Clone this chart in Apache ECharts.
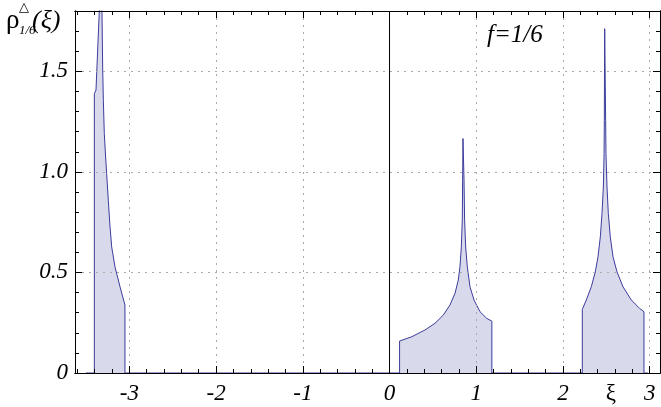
<!DOCTYPE html>
<html><head><meta charset="utf-8">
<script src="https://cdn.jsdelivr.net/npm/echarts@6/dist/echarts.min.js"></script>
<style>html,body{margin:0;padding:0;background:#fff}#c{width:661px;height:407px}</style>
</head><body><div id="c"></div>
<script>
// ---- data ----
const xMin = -3.627, xMax = 3.119, yMin = 0, yMax = 1.8;
const xMajorTicks = [-3, -2, -1, 0, 1, 2, 3];
const xMinorTicks = [-3.6,-3.4,-3.2,-2.8,-2.6,-2.4,-2.2,-1.8,-1.6,-1.4,-1.2,-0.8,-0.6,-0.4,-0.2,0.2,0.4,0.6,0.8,1.2,1.4,1.6,1.8,2.2,2.4,2.6,2.8];
const yMajorTicks = [0, 0.5, 1.0, 1.5];
const yMinorTicks = [0.1,0.2,0.3,0.4,0.6,0.7,0.8,0.9,1.1,1.2,1.3,1.4,1.6,1.7];
const xAxisNamePos = 2.553;   // where the "ξ" label sits on the axis row

const startX = [-3.5], startY = [0];
const band1X = [-3.404, -3.404, -3.385, -3.347, -3.323, -3.316, -3.308, -3.300, -3.289, -3.274, -3.262, -3.243, -3.223, -3.204, -3.166, -3.108, -3.051, -3.051];
const band1Y = [0, 1.388, 1.407, 1.798, 2.05, 1.798, 1.521, 1.356, 1.19, 1.074, 0.992, 0.859, 0.727, 0.627, 0.528, 0.429, 0.338, 0];
const band2X = [0.116, 0.116, 0.255, 0.409, 0.524, 0.620, 0.697, 0.755, 0.793, 0.812, 0.828, 0.839, 0.843, 0.847, 0.851, 0.859, 0.866, 0.878, 0.897, 0.928, 0.974, 1.043, 1.120, 1.180, 1.180];
const band2Y = [0, 0.159, 0.180, 0.214, 0.247, 0.288, 0.338, 0.396, 0.462, 0.528, 0.627, 0.760, 0.959, 1.166, 1.166, 0.959, 0.760, 0.627, 0.528, 0.429, 0.363, 0.305, 0.272, 0.258, 0];
const band3X = [2.223, 2.223, 2.269, 2.327, 2.373, 2.404, 2.431, 2.450, 2.466, 2.474, 2.477, 2.481, 2.486, 2.492, 2.496, 2.508, 2.523, 2.546, 2.577, 2.623, 2.692, 2.788, 2.884, 2.934, 2.934];
const band3Y = [0, 0.316, 0.363, 0.429, 0.503, 0.578, 0.677, 0.793, 0.925, 1.091, 1.257, 1.712, 1.712, 1.257, 1.091, 0.925, 0.793, 0.677, 0.578, 0.503, 0.429, 0.363, 0.321, 0.305, 0];
const endX = [2.98], endY = [0];
const zeroLineX = [0, 0], zeroLineY = [0, 1.8];

// ---- build ----
function pairs(xs, ys) { return xs.map((x, i) => [x, ys[i]]); }
const densityData = [].concat(pairs(startX, startY), pairs(band1X, band1Y), pairs(band2X, band2Y), pairs(band3X, band3Y), pairs(endX, endY));

const serif = '"Liberation Serif", "Times New Roman", "DejaVu Serif", serif';
const black = '#000';
const gridLine = { show: true, lineStyle: { color: '#aaaaaa', width: 1, type: [2, 5] } };

function xAx(pos, ticks, len, opts) {
  return Object.assign({
    type: 'value', min: xMin, max: xMax, position: pos, z: 3,
    axisLine: { show: true, onZero: false, lineStyle: { color: black, width: 1 } },
    axisTick: { show: true, inside: true, length: len, customValues: ticks, lineStyle: { color: black, width: 1 } },
    axisLabel: { show: false },
    splitLine: { show: false }
  }, opts || {});
}
function yAx(pos, ticks, len, opts) {
  return Object.assign({
    type: 'value', min: yMin, max: yMax, position: pos, z: 3,
    axisLine: { show: true, onZero: false, lineStyle: { color: black, width: 1 } },
    axisTick: { show: true, inside: true, length: len, customValues: ticks, lineStyle: { color: black, width: 1 } },
    axisLabel: { show: false },
    splitLine: { show: false }
  }, opts || {});
}

const chart = echarts.init(document.getElementById('c'), null, { renderer: 'canvas' });
chart.setOption({
  animation: false,
  backgroundColor: '#fff',
  grid: { left: 75, right: 1, top: 11, bottom: 34, containLabel: false },
  xAxis: [
    xAx('bottom', xMajorTicks, 7, {
      axisLabel: {
        show: true, customValues: xMajorTicks.concat([xAxisNamePos]), margin: 9,
        fontFamily: serif, fontStyle: 'italic', fontSize: 23, color: black,
        formatter: v => (Math.abs(v - xAxisNamePos) < 1e-6 ? '{xi|ξ}' : String(v)),
        rich: { xi: { fontFamily: serif, fontStyle: 'normal', fontSize: 23, color: black } }
      },
      splitLine: gridLine
    }),
    xAx('bottom', xMinorTicks, 4),
    xAx('top', xMajorTicks, 7),
    xAx('top', xMinorTicks, 4)
  ],
  yAxis: [
    yAx('left', yMajorTicks, 7, {
      axisLabel: {
        show: true, customValues: yMajorTicks, margin: 7,
        fontFamily: serif, fontStyle: 'italic', fontSize: 23, color: black,
        formatter: v => (v === 0 ? '0' : v.toFixed(1))
      },
      splitLine: gridLine
    }),
    yAx('left', yMinorTicks, 4),
    yAx('right', yMajorTicks, 7),
    yAx('right', yMinorTicks, 4)
  ],
  series: [
    {
      type: 'line', xAxisIndex: 0, yAxisIndex: 0, data: densityData,
      showSymbol: false, symbol: 'none', clip: true, z: 2,
      lineStyle: { color: '#3c3c9c', width: 1 },
      areaStyle: { color: '#d9d9ec', opacity: 1, origin: 'start' }
    },
    {
      type: 'line', xAxisIndex: 0, yAxisIndex: 0, data: pairs(zeroLineX, zeroLineY),
      showSymbol: false, symbol: 'none', z: 5,
      lineStyle: { color: black, width: 1 }
    }
  ],
  graphic: [
    { type: 'text', left: 6, top: 7, style: { text: 'ρ', font: 'normal 27px "Liberation Serif", "Times New Roman", serif', fill: black } },
    { type: 'text', left: 19, top: 1, style: { text: '△', font: 'normal 13px "DejaVu Sans"', fill: black } },
    { type: 'text', left: 19, top: 24, style: { text: '1/6', font: 'italic 13px "Liberation Serif", "Times New Roman", serif', fill: black } },
    { type: 'text', left: 32, top: 8, style: { text: '(ξ)', font: 'italic 26px "Liberation Serif", "Times New Roman", serif', fill: black } },
    { type: 'text', left: 487, top: 23, style: { text: 'f=1/6', font: 'italic 25px "Liberation Serif", "Times New Roman", serif', fill: black } }
  ]
});
</script>
</body></html>
